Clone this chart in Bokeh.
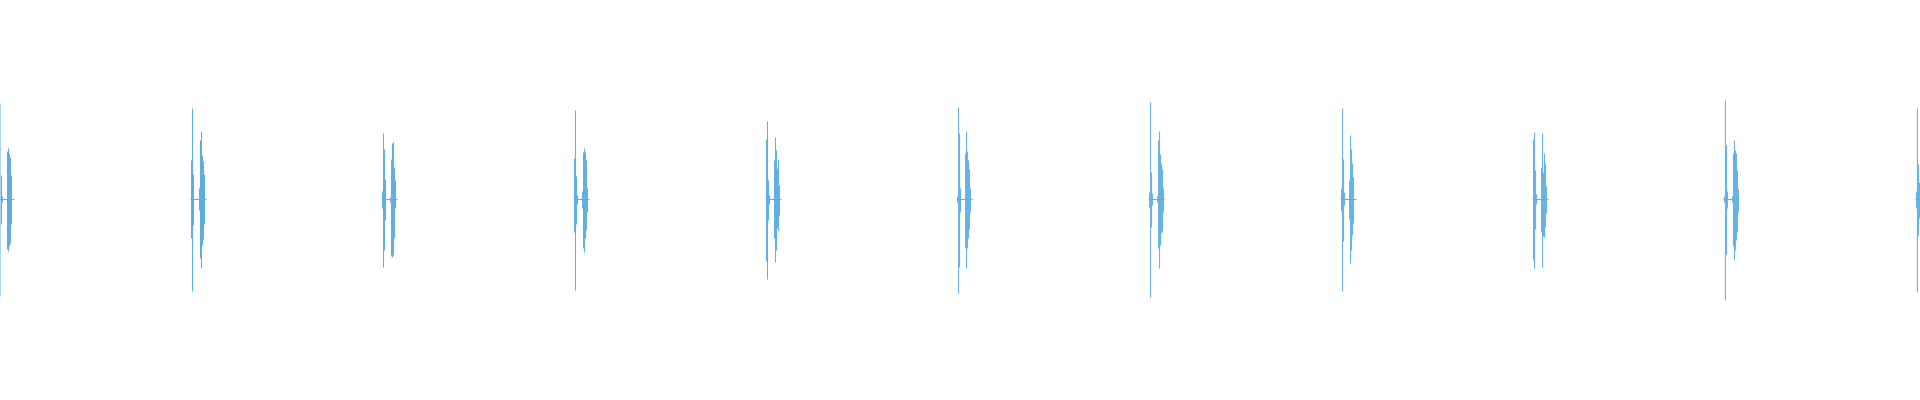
from bokeh.plotting import figure
from bokeh.models import ColumnDataSource, Range1d
from bokeh.embed import file_html
from bokeh.resources import INLINE

# Beat onset times (seconds)
beat_times = [0.000, 1.000, 1.995, 2.995, 3.995, 4.990, 5.990, 6.990, 7.990, 8.984, 9.984]

# Sample offsets within each beat (milliseconds from the first sound)
offsets_ms = [-5.2, 0.0, 5.2, 10.4, 36.5, 41.7, 46.9, 52.1, 57.3, 62.5, 67.7]

# Positive peak of each sample (amplitude units), one row per beat
peak_up = [
    [0, 96, 24, 3, 48, 51, 46, 42, 24, 0, 0],
    [39, 91, 25, 0, 11, 59, 68, 44, 38, 25, 0],
    [8, 66, 50, 20, 2, 40, 56, 57, 32, 19, 0],
    [41, 89, 23, 4, 8, 47, 51, 47, 39, 11, 0],
    [60, 78, 19, 4, 39, 62, 49, 31, 40, 14, 0],
    [3, 92, 66, 11, 46, 68, 48, 39, 30, 11, 0],
    [7, 97, 27, 6, 3, 59, 68, 45, 36, 30, 11],
    [11, 91, 40, 7, 19, 64, 50, 36, 22, 0, 0],
    [60, 67, 29, 5, 32, 66, 27, 46, 36, 13, 0],
    [3, 99, 54, 8, 3, 46, 59, 49, 46, 29, 11],
    [8, 91, 35, 17, 0, 0, 0, 0, 0, 0, 0],
]

# Negative peak of each sample (amplitude units), one row per beat
peak_down = [
    [0, -97, -25, -3, -50, -52, -47, -44, -25, 0, 0],
    [-39, -92, -26, 0, -11, -59, -69, -46, -40, -25, 0],
    [-9, -68, -51, -21, -3, -57, -58, -56, -39, -9, 0],
    [-33, -91, -25, -5, -9, -49, -53, -39, -31, -13, 0],
    [-62, -80, -21, -5, -39, -63, -51, -29, -32, -16, 0],
    [-3, -94, -68, -13, -48, -69, -49, -39, -30, -13, 0],
    [-8, -98, -28, -6, -3, -49, -69, -46, -34, -32, -13],
    [-12, -92, -42, -6, -20, -64, -51, -36, -24, 0, 0],
    [-61, -69, -30, -5, -33, -68, -37, -38, -28, -14, 0],
    [-3, -101, -55, -9, -3, -47, -61, -51, -41, -33, -13],
    [-9, -93, -36, -19, 0, 0, 0, 0, 0, 0, 0],
]

COLOR = "#5DADE2"
PX_PER_S = 192.0
W, H = 1920, 400

xs, y0s, y1s = [], [], []
for bt, ups, downs in zip(beat_times, peak_up, peak_down):
    for off, u, d in zip(offsets_ms, ups, downs):
        if u == 0 and d == 0:
            continue
        xs.append(bt + off / 1000.0)
        y0s.append(d)
        y1s.append(u)

src = ColumnDataSource(dict(x=xs, y0=y0s, y1=y1s))

# baseline pieces around each beat
bx0 = [bt + offsets_ms[0] / 1000.0 - 0.005 for bt in beat_times]
bx1 = [bt + offsets_ms[-1] / 1000.0 + 0.005 for bt in beat_times]
bsrc = ColumnDataSource(dict(x0=bx0, x1=bx1, y=[0] * len(beat_times)))

start = 0.0
p = figure(width=W, height=H, output_backend="svg", toolbar_location=None,
           x_range=Range1d(start, start + W / PX_PER_S),
           y_range=Range1d(-201, 199),
           min_border=0, outline_line_color=None)
p.axis.visible = False
p.grid.visible = False
p.background_fill_color = "white"
p.border_fill_color = "white"

p.segment(x0="x0", y0="y", x1="x1", y1="y", source=bsrc, line_color=COLOR, line_width=1)
p.segment(x0="x", y0="y0", x1="x", y1="y1", source=src, line_color=COLOR, line_width=1)

open("out.html", "w").write(file_html(p, INLINE))
